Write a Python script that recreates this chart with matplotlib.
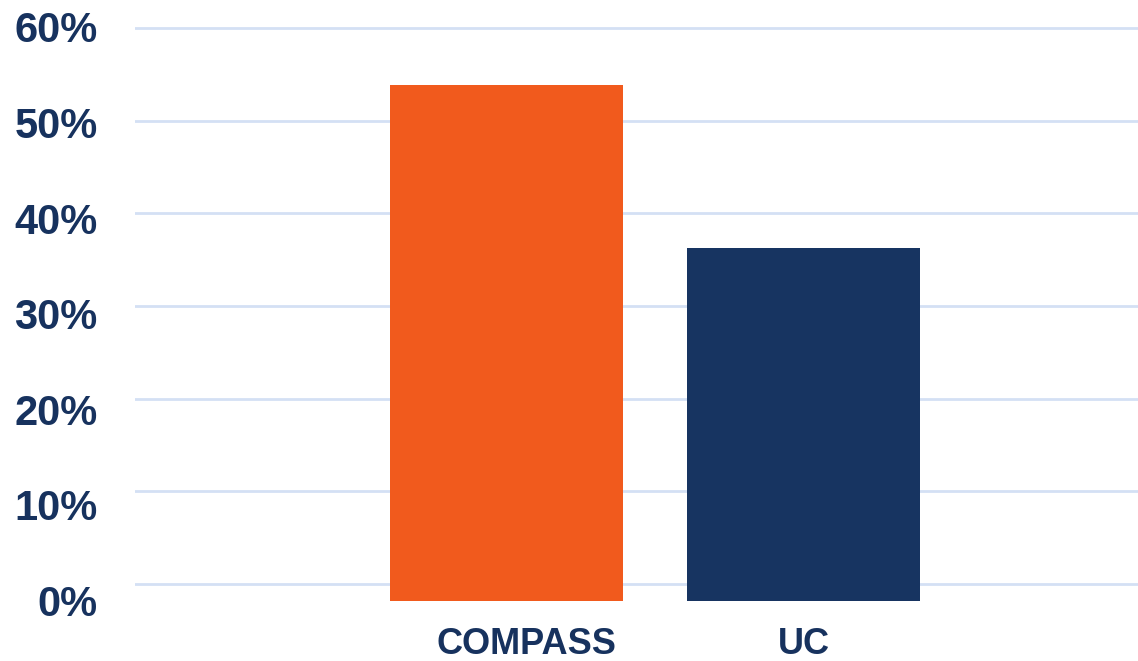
import matplotlib.pyplot as plt
import matplotlib.transforms as mtransforms

categories = ['COMPASS', 'UC']
values = [53.9, 36.9]
bar_colors = ['#F15A1D', '#173461']
ticks = [0, 10, 20, 30, 40, 50, 60]
tick_labels = ['0%', '10%', '20%', '30%', '40%', '50%', '60%']

text_color = '#17325E'
plt.rcParams['font.family'] = ['Liberation Sans', 'DejaVu Sans']
plt.rcParams['font.weight'] = 'bold'

W, H = 1138, 661
fig = plt.figure(figsize=(W / 100, H / 100), dpi=100)
top_px, bot_px, left_px, right_px = 10, 605, 135, 1138
rect = [left_px / W, 1 - bot_px / H, (right_px - left_px) / W, (bot_px - top_px) / H]

# gridline axis (its own scale, drawn behind)
ax2 = fig.add_axes(rect)
ax2.set_ylim(-2.27, 61.94)
ax2.set_yticks(ticks)
ax2.yaxis.grid(True, color='#D4E0F4', linewidth=2)
ax2.tick_params(left=False, labelleft=False, bottom=False, labelbottom=False)
ax2.set_xticks([])
for s in ax2.spines.values():
    s.set_visible(False)

# bars + labels axis
ax = fig.add_axes(rect)
ax.set_zorder(ax2.get_zorder() + 1)
ax.patch.set_visible(False)
x = range(len(categories))
ax.bar(x, values, width=0.785, color=bar_colors)
ax.set_xlim(-1.251, 2.126)
ax.set_ylim(-0.47, 61.77)
ax.set_yticks(ticks)
ax.set_yticklabels(tick_labels, fontsize=30, color=text_color, fontweight='bold')
ax.set_xticks(list(x))
ax.set_xticklabels(categories, fontsize=26, color=text_color, fontweight='bold')
ax.tick_params(axis='y', length=0, pad=27)
ax.tick_params(axis='x', length=0, pad=16)
for s in ax.spines.values():
    s.set_visible(False)

shift = mtransforms.ScaledTranslation(20 / 100, 0, fig.dpi_scale_trans)
lbl = ax.get_xticklabels()[0]
lbl.set_transform(lbl.get_transform() + shift)

fig.savefig('out.png', dpi=100)
